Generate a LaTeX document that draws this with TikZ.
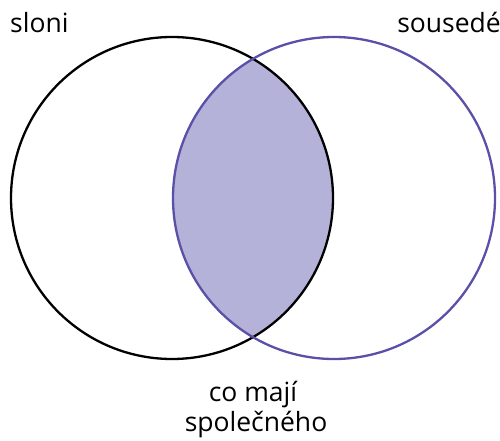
\documentclass[tikz,border=0pt]{standalone}
\usepackage{fontspec}
\setmainfont{Open Sans}
\definecolor{vpurple}{HTML}{5A50A8}
\definecolor{vfill}{HTML}{B4B2D9}
\begin{document}
\begin{tikzpicture}[x=1pt,y=-1pt,
  lbl/.style={inner sep=0pt,font=\fontsize{26.5}{32}\selectfont},
  setA/.style={draw=black,line width=2.3pt},
  setB/.style={draw=vpurple,line width=2.3pt}]
\useasboundingbox (0,0) rectangle (500,441);
\coordinate (ca) at (172,198);
\coordinate (cb) at (334,198);
\begin{scope}
  \clip (ca) circle[radius=161];
  \fill[vfill] (cb) circle[radius=161];
\end{scope}
\draw[setA] (ca) circle[radius=161];
\draw[setB] (cb) circle[radius=161];
\node[lbl,anchor=base west] (a) at (10,33) {sloni};
\node[lbl,anchor=base east] (b) at (501,33) {sousedé};
\node[lbl,anchor=base] (c1) at (253,401) {co mají};
\node[lbl,anchor=base] (c2) at (256,431) {společného};
\end{tikzpicture}
\end{document}
